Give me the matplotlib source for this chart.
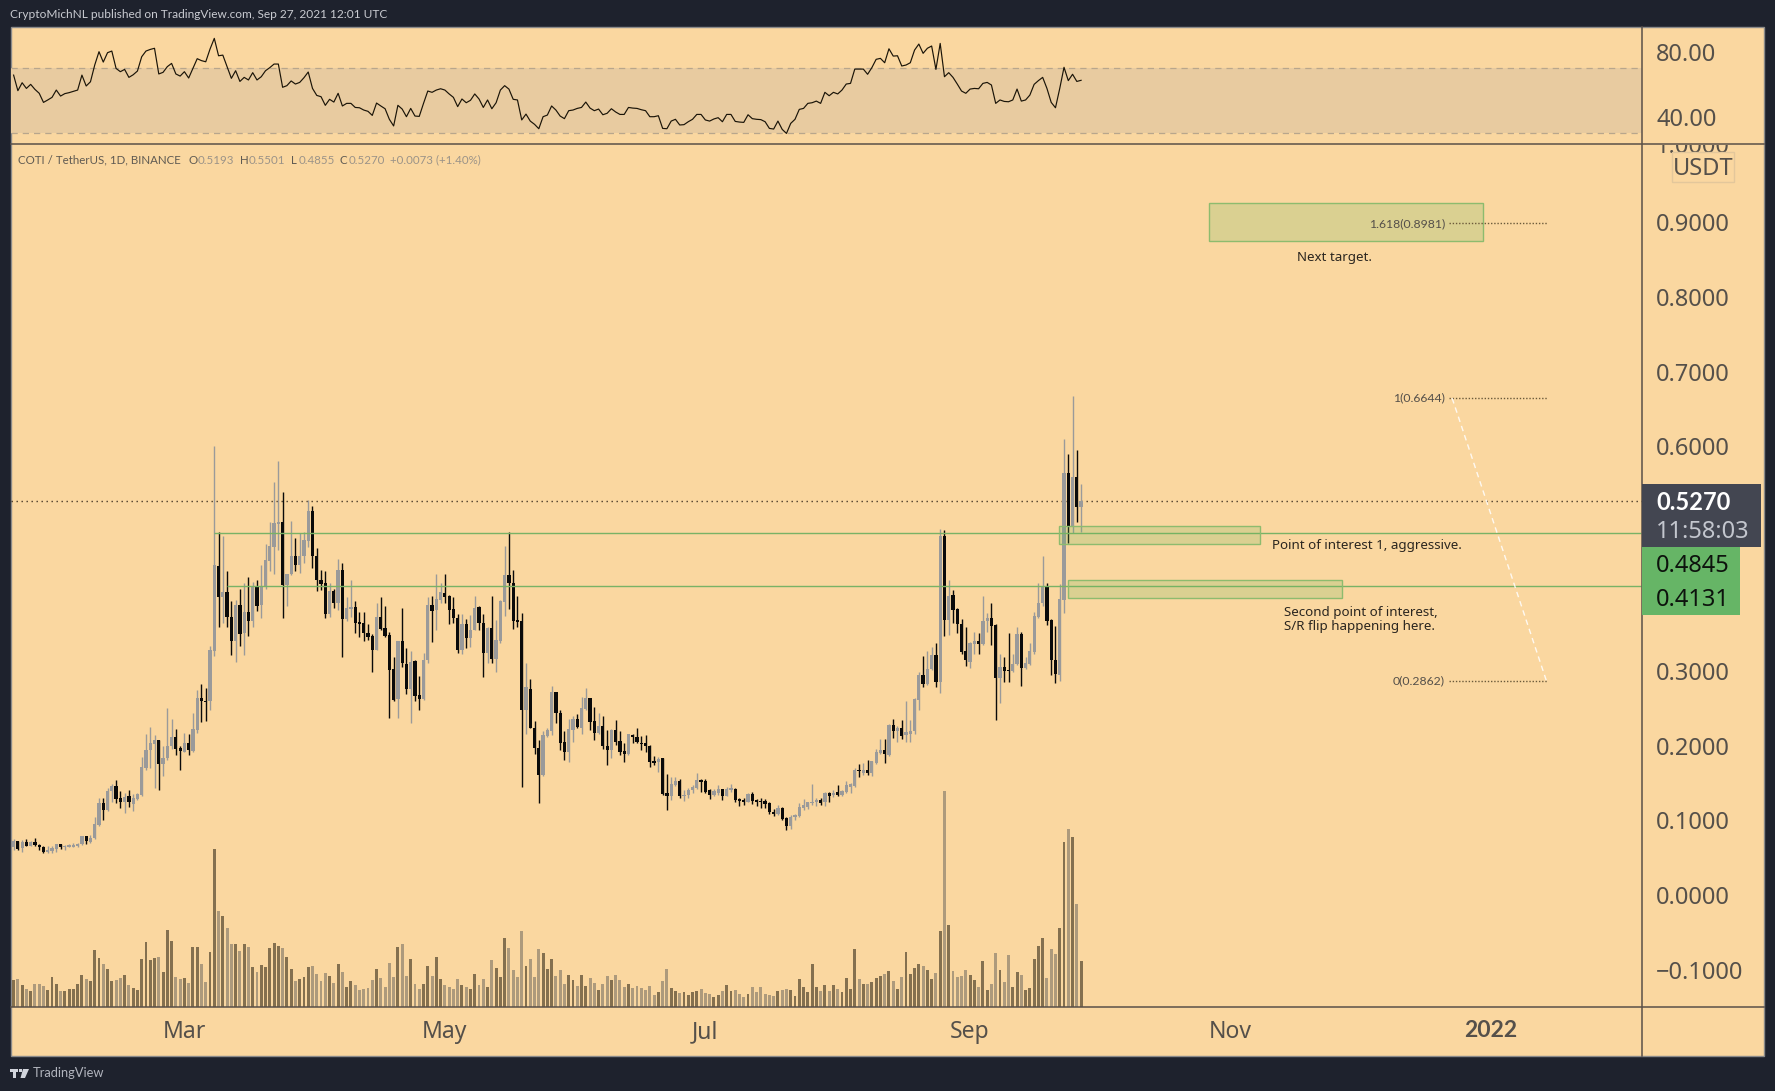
import numpy as np
import pandas as pd
import matplotlib
matplotlib.use("Agg")
import matplotlib.pyplot as plt
import matplotlib.dates as mdates
from matplotlib.patches import Rectangle, Polygon

plt.rcParams['font.family'] = ['Noto Sans', 'DejaVu Sans']
SMALL = ['Lato', 'DejaVu Sans']

dates = pd.date_range('2021-01-20', periods=251)

opens = [.064,.072,.063,.071,.066,.071,.067,.065,.058,.059,
.062,.068,.064,.065,.065,.066,.068,.079,.071,.076,
.094,.123,.114,.139,.146,.130,.125,.133,.122,.129,
.134,.170,.194,.202,.208,.175,.183,.199,.211,.197,
.192,.204,.193,.221,.263,.260,.259,.327,.440,.398,
.405,.372,.340,.388,.350,.378,.366,.413,.388,.413,
.447,.466,.496,.499,.415,.429,.454,.441,.453,.474,
.514,.454,.421,.417,.376,.407,.391,.435,.369,.383,
.385,.365,.364,.351,.346,.328,.372,.357,.348,.302,
.262,.340,.309,.276,.313,.267,.262,.314,.388,.381,
.395,.404,.400,.382,.370,.328,.362,.344,.355,.385,
.364,.324,.357,.316,.340,.392,.428,.417,.368,.367,
.247,.276,.224,.197,.161,.213,.220,.272,.243,.205,
.192,.221,.236,.224,.249,.263,.233,.217,.226,.200,
.194,.221,.206,.193,.189,.214,.211,.204,.203,.200,
.179,.178,.183,.136,.133,.147,.153,.132,.134,.141,
.143,.154,.153,.141,.134,.137,.142,.133,.141,.142,
.129,.127,.125,.135,.127,.126,.126,.123,.111,.109,
.117,.103,.093,.104,.106,.117,.118,.123,.124,.127,
.124,.136,.134,.138,.134,.138,.145,.146,.168,.163,
.168,.163,.177,.190,.194,.187,.228,.220,.223,.214,
.216,.219,.261,.294,.282,.302,.321,.285,.480,.368,
.401,.383,.362,.326,.312,.336,.340,.336,.366,.370,
.361,.291,.305,.301,.300,.309,.349,.304,.309,.325,
.372,.390,.412,.368,.314,.295,.395,.564,.494,.559,
.5193]

highs = [.075,.073,.074,.075,.072,.077,.069,.066,.066,.066,
.069,.069,.067,.069,.070,.070,.079,.079,.081,.104,
.130,.130,.143,.149,.154,.139,.136,.140,.135,.136,
.185,.216,.225,.214,.208,.199,.250,.235,.222,.199,
.217,.216,.244,.274,.283,.277,.333,.601,.485,.480,
.433,.393,.395,.410,.417,.426,.419,.421,.441,.470,
.499,.553,.581,.539,.430,.500,.478,.484,.485,.529,
.520,.464,.435,.433,.417,.410,.450,.444,.399,.421,
.393,.378,.378,.363,.349,.391,.398,.386,.352,.318,
.340,.384,.330,.326,.315,.293,.324,.398,.400,.430,
.417,.429,.401,.399,.376,.376,.369,.375,.400,.387,
.376,.359,.400,.368,.395,.467,.486,.435,.400,.377,
.310,.289,.233,.208,.219,.223,.280,.272,.248,.219,
.236,.239,.242,.265,.277,.263,.251,.243,.240,.221,
.222,.234,.219,.203,.216,.216,.224,.213,.214,.201,
.186,.185,.184,.162,.158,.158,.156,.141,.143,.147,
.163,.156,.155,.142,.142,.147,.142,.145,.149,.143,
.130,.130,.136,.138,.129,.130,.129,.124,.115,.121,
.118,.105,.107,.109,.123,.129,.124,.149,.130,.130,
.138,.138,.140,.147,.141,.153,.150,.170,.175,.177,
.181,.180,.196,.209,.209,.229,.236,.226,.234,.259,
.234,.263,.298,.320,.326,.332,.337,.490,.488,.422,
.408,.384,.369,.359,.339,.352,.350,.400,.377,.391,
.362,.322,.318,.350,.323,.358,.352,.319,.337,.379,
.418,.453,.418,.369,.360,.416,.610,.590,.667,.595,
.5501]

lows = [.061,.061,.058,.066,.066,.066,.061,.056,.057,.056,
.058,.062,.060,.064,.064,.064,.067,.069,.070,.075,
.093,.101,.113,.125,.123,.117,.110,.118,.113,.127,
.132,.167,.170,.143,.140,.159,.181,.196,.188,.167,
.191,.187,.192,.217,.232,.233,.248,.320,.359,.364,
.359,.321,.312,.333,.321,.346,.359,.380,.370,.410,
.433,.429,.462,.370,.386,.428,.433,.431,.444,.466,
.438,.407,.408,.371,.372,.384,.381,.319,.367,.372,
.351,.345,.340,.341,.299,.328,.355,.345,.237,.260,
.237,.305,.269,.230,.260,.247,.261,.310,.338,.354,
.390,.391,.363,.364,.324,.322,.331,.332,.355,.355,
.292,.310,.310,.298,.337,.373,.383,.356,.359,.145,
.216,.224,.189,.123,.160,.212,.214,.230,.194,.181,
.178,.205,.224,.216,.248,.221,.208,.216,.196,.174,
.183,.201,.187,.178,.188,.203,.203,.194,.192,.172,
.174,.165,.134,.114,.127,.146,.130,.126,.130,.136,
.142,.138,.136,.129,.132,.134,.127,.132,.138,.124,
.119,.120,.124,.122,.119,.116,.116,.109,.106,.107,
.101,.087,.088,.101,.105,.114,.115,.121,.119,.121,
.119,.124,.131,.133,.132,.136,.136,.145,.158,.161,
.161,.159,.175,.189,.177,.186,.210,.205,.209,.205,
.205,.216,.247,.279,.281,.301,.279,.270,.346,.348,
.364,.351,.323,.306,.304,.323,.323,.335,.352,.335,
.234,.257,.285,.285,.299,.308,.280,.303,.308,.323,
.371,.387,.361,.295,.284,.286,.377,.471,.484,.499,
.4855]

closes = [.073,.062,.071,.066,.071,.067,.065,.058,.061,.063,
.068,.064,.066,.067,.067,.068,.079,.073,.076,.095,
.123,.114,.139,.146,.129,.125,.131,.124,.130,.135,
.172,.194,.203,.208,.176,.183,.200,.211,.196,.193,
.204,.194,.222,.263,.259,.258,.328,.442,.398,.406,
.372,.340,.388,.349,.378,.367,.413,.387,.413,.448,
.467,.498,.499,.415,.429,.453,.442,.454,.475,.514,
.453,.421,.416,.376,.407,.391,.435,.369,.384,.385,
.364,.363,.351,.345,.328,.372,.356,.347,.301,.261,
.340,.310,.276,.312,.266,.262,.315,.388,.380,.396,
.405,.399,.381,.370,.328,.362,.344,.355,.384,.364,
.324,.357,.316,.341,.393,.428,.417,.367,.365,.247,
.278,.224,.197,.161,.214,.221,.272,.243,.204,.192,
.222,.236,.225,.250,.263,.232,.217,.226,.199,.194,
.221,.205,.191,.189,.215,.211,.205,.202,.200,.178,
.177,.182,.135,.133,.149,.153,.132,.134,.141,.144,
.154,.151,.138,.134,.139,.142,.133,.142,.143,.127,
.126,.125,.135,.126,.125,.124,.122,.111,.109,.116,
.102,.093,.105,.107,.118,.120,.124,.125,.127,.123,
.136,.133,.137,.134,.139,.147,.149,.168,.166,.168,
.164,.179,.191,.194,.189,.228,.220,.223,.213,.218,
.220,.262,.294,.282,.303,.321,.285,.480,.368,.400,
.381,.362,.325,.314,.337,.340,.336,.367,.370,.360,
.291,.305,.300,.300,.309,.349,.304,.310,.326,.373,
.391,.412,.367,.314,.296,.396,.564,.494,.559,.519,
.5270]

volumes = [79,82,64,52,46,67,67,61,49,88,
67,46,46,52,52,67,94,82,76,169,
145,127,112,76,79,85,94,64,55,49,
142,193,139,145,148,103,229,196,88,82,
85,70,178,178,127,73,163,472,286,271,
235,187,187,166,187,178,118,103,124,118,
175,190,181,175,148,112,76,82,88,118,
121,97,76,100,91,70,127,103,58,76,
64,49,52,55,79,112,85,58,130,88,
178,187,91,142,67,52,67,121,91,148,
82,64,58,52,82,64,58,52,97,64,
82,58,139,115,88,205,175,109,88,226,
121,142,88,172,160,112,142,91,109,67,
94,79,61,94,61,85,70,49,67,91,
79,94,79,58,67,55,61,55,49,61,
34,43,76,112,55,46,40,43,34,43,
46,52,40,37,28,34,46,64,47,49,
37,28,37,58,43,58,37,34,31,46,
49,52,49,31,82,58,43,127,58,46,
64,46,64,52,43,85,52,172,82,67,
67,73,85,91,97,106,76,52,88,163,
97,115,127,121,109,82,100,226,646,244,
106,88,91,109,94,79,58,136,49,67,
160,109,73,154,58,103,94,49,55,142,
181,205,85,172,157,235,493,532,508,307,
136]

rsi = [65.6,56.0,60.9,57.4,59.9,56.8,54.4,48.8,50.3,51.9,
56.4,52.7,54.2,54.8,55.6,56.4,65.6,58.9,61.5,71.8,
80.0,73.6,79.4,80.4,69.7,67.7,69.1,64.2,65.8,68.1,
76.9,80.4,81.4,82.1,66.3,67.3,70.8,72.8,66.3,65.0,
67.7,63.8,69.7,75.7,74.5,73.8,81.6,88.2,77.5,77.9,
70.8,63.6,68.3,61.7,64.2,62.6,67.1,62.6,64.6,68.3,
70.2,72.4,72.4,58.1,59.1,62.0,60.1,61.1,64.0,67.5,
57.4,53.1,52.3,47.0,50.7,49.0,54.4,46.6,48.2,48.2,
45.7,45.5,44.1,43.3,40.8,48.4,46.6,44.9,38.4,34.3,
47.0,44.7,40.0,45.1,40.4,40.2,48.2,55.8,55.0,56.4,
57.2,56.4,54.0,51.9,46.2,50.9,48.6,50.1,54.0,50.9,
45.7,50.3,44.9,48.6,56.4,59.1,57.0,50.7,50.3,38.0,
41.6,37.3,35.3,32.6,40.0,41.0,46.6,44.1,40.4,
38.8,43.7,44.1,45.1,45.7,49.0,45.3,43.7,44.7,41.2,42.1,
44.9,42.9,41.4,41.4,45.7,45.3,45.1,44.3,43.7,40.0,
40.0,40.6,32.8,32.6,37.3,38.4,34.9,35.1,36.9,38.4,
41.4,41.4,38.0,37.3,38.6,39.4,36.9,41.4,41.4,37.1,
36.7,36.5,41.2,38.8,38.4,38.2,36.9,32.8,32.4,37.3,
32.2,29.7,35.9,38.4,44.5,45.1,48.2,48.6,49.6,48.2,
55.0,52.9,55.0,54.0,56.4,60.1,60.5,69.3,69.3,69.3,
66.1,70.2,75.3,75.9,73.2,81.8,77.3,77.5,71.2,71.8,
73.2,81.0,84.7,79.0,82.1,83.5,69.1,85.1,64.6,67.1,
64.2,60.1,55.8,54.4,57.0,57.4,57.2,60.5,61.1,59.5,
48.2,50.3,49.4,49.2,50.3,57.0,49.6,50.3,53.3,59.9,
62.2,64.2,57.4,48.8,45.5,57.4,70.4,62.2,66.1,61.7,62.4]

price_ticks = [0.9, 0.8, 0.7, 0.6, 0.3, 0.2, 0.1, 0.0, -0.1]
price_labels = ['0.9000','0.8000','0.7000','0.6000','0.3000','0.2000','0.1000','0.0000','\u22120.1000']
rsi_ticks = [80, 40]
rsi_labels = ['80.00', '40.00']
month_ticks = ['2021-03-01','2021-05-01','2021-07-01','2021-09-01','2021-11-01','2022-01-01']
month_labels = ['Mar','May','Jul','Sep','Nov','2022']

last_price = 0.5270
poi1 = 0.4845
poi2 = 0.4131
fib_1618 = 0.8981
fib_1 = 0.6644
fib_0 = 0.2862

BG = '#FAD7A0'
DARK = '#1E222D'
TXT = '#55504A'
W, H = 1775, 1091
fig = plt.figure(figsize=(W/100, H/100), dpi=100, facecolor=DARK)

def axbox(x0, y0, x1, y1):
    return [x0/W, 1-y1/H, (x1-x0)/W, (y1-y0)/H]
def fx(x): return x/W
def fy(y): return 1-y/H

L, R, RIGHT, TOP, SEP, BASE, BOT = 10.5, 1641.5, 1764, 27, 144, 1006.5, 1056

fig.add_artist(Rectangle((fx(L), fy(BOT)), (RIGHT-L)/W, (BOT-TOP)/H, transform=fig.transFigure,
                         fc=BG, ec='#8a8a8a', lw=1, zorder=-5))

d0 = mdates.date2num(dates[0])
xs = d0 + np.arange(len(dates))
PXD = 4.27
x_left = d0 - (13.6-L)/PXD
x_right = x_left + (R-L)/PXD

o = np.array(opens); h = np.array(highs); l = np.array(lows); c = np.array(closes)
up = c >= o

# ---- RSI pane
ar = fig.add_axes(axbox(L, TOP, R, SEP), facecolor='none')
r_top = 80 + (51.7-TOP)/1.625
r_bot = 80 - (SEP-51.7)/1.625
ar.set_xlim(x_left, x_right); ar.set_ylim(r_bot, r_top)
ar.axhspan(30, 70, fc='#E8CBA0', ec='none', zorder=1)
for v in (70, 30):
    ar.axhline(v, color='#B8A68C', lw=0.9, ls=(0, (5, 4)), zorder=2)
ar.plot(xs, rsi, color='#1a1408', lw=0.85, zorder=3)
ar.set_xticks([])
ar.yaxis.tick_right()
ar.set_yticks(rsi_ticks); ar.set_yticklabels(rsi_labels, fontsize=17, color=TXT, ha='left')
ar.tick_params(axis='y', length=0, pad=10.5)
for s in ar.spines.values(): s.set_visible(False)

# ---- main + volume panes
ax = fig.add_axes(axbox(L, SEP, R, BASE), facecolor='none')
p_top = 0.9 + (222-SEP)/748
p_bot = 0.9 - (BASE-222)/748
ax.set_xlim(x_left, x_right); ax.set_ylim(p_bot, p_top)

av = ax.twinx()
av.set_ylim(0, (BASE-SEP)*3)
av.set_yticks([])
vol = np.array(volumes)
av.bar(xs[up], vol[up], width=0.68, color='#84704F', linewidth=0)
av.bar(xs[~up], vol[~up], width=0.68, color='#AD9A7C', linewidth=0)
for s in av.spines.values(): s.set_visible(False)
ax.set_zorder(av.get_zorder()+1)

GRAY, BLACK = '#9A9A9A', '#0A0A0A'
for mask, col in ((up, GRAY), (~up, BLACK)):
    ax.vlines(xs[mask], l[mask], h[mask], color=col, lw=1.0, zorder=3)
    ax.bar(xs[mask], np.maximum(np.abs(c[mask]-o[mask]), 0.0015), bottom=np.minimum(c[mask], o[mask]),
           width=0.76, color=col, linewidth=0, zorder=4)

ax.axhline(last_price, color='#4a3a28', lw=1.0, ls=(0, (1, 2.6)), zorder=2)
GREEN = '#79B266'
ax.hlines(poi1, d0+47, x_right, color=GREEN, lw=1.0, zorder=5)
ax.hlines(poi2, d0+50, x_right, color=GREEN, lw=1.0, zorder=5)
RECT_F = (0.42, 0.72, 0.36, 0.22)
RECT_E = '#8DBB6E'
for x0, x1, y0, y1 in ((280, 344.2, 0.8746, 0.9254), (244.8, 292, 0.4695, 0.4936), (246.9, 311.1, 0.3973, 0.4214)):
    ax.add_patch(Rectangle((d0+x0, y0), x1-x0, y1-y0, fc=RECT_F, ec=RECT_E, lw=1.0, zorder=6))

for val, lab in ((fib_1618, '1.618(0.8981)'), (fib_1, '1(0.6644)'), (fib_0, '0(0.2862)')):
    ax.hlines(val, d0+336.2, d0+359, color='#6b5a3a', lw=1.0, ls=(0, (1, 1.3)), zorder=6)
    ax.text(d0+335.2, val, lab, fontsize=8.8, color=TXT, ha='right', va='center', zorder=7, family=SMALL)
ax.plot([d0+336.9, d0+359], [fib_1, fib_0], color='#FFFFFF', lw=1.0, ls=(0, (4, 3)), alpha=0.85, zorder=6)

NOTE = '#2b2620'
ax.text(d0+309.4, 0.8520, 'Next target.', fontsize=9.6, color=NOTE, ha='center', va='center', zorder=7)
ax.text(d0+294.8, 0.4680, 'Point of interest 1, aggressive.', fontsize=9.6, color=NOTE, ha='left', va='center', zorder=7)
ax.text(d0+297.5, 0.3685, 'Second point of interest,\nS/R flip happening here.', fontsize=9.6, color=NOTE,
        ha='left', va='center', linespacing=1.02, zorder=7)

ax.yaxis.tick_right()
ax.set_yticks(price_ticks); ax.set_yticklabels(price_labels, fontsize=17, color=TXT, ha='left')
ax.tick_params(axis='y', length=0, pad=10.5)
ax.set_xticks(mdates.date2num(pd.to_datetime(month_ticks)))
ax.set_xticklabels(month_labels, fontsize=16.5, color=TXT)
ax.tick_params(axis='x', length=0, pad=10)
lab2022 = ax.get_xticklabels()[-1]
lab2022.set_fontfamily(SMALL); lab2022.set_fontweight('bold')
for s in ax.spines.values(): s.set_visible(False)

def fline(x0, y0, x1, y1, color='#5a5048', lw=1.1):
    fig.add_artist(plt.Line2D([fx(x0), fx(x1)], [fy(y0), fy(y1)], color=color, lw=lw, zorder=8))
fline(L, SEP, RIGHT, SEP)
fline(R, TOP, R, BOT)
fline(L, BASE, RIGHT, BASE)

def ftext(x, y, s, **kw):
    kw.setdefault('va', 'center'); kw.setdefault('ha', 'left')
    kw.setdefault('zorder', 12)
    return fig.text(fx(x), fy(y), s, **kw)

# 1.0000 sits on the pane separator and is cut by it and by the USDT box
t = ftext(1656, 147, '1.0000', fontsize=17, color=TXT)
clip = Rectangle((fx(R), fy(BASE)), (RIGHT-R)/W, (BASE-SEP-1)/H, transform=fig.transFigure)
t.set_clip_path(clip); t.set_clip_on(True)

fig.add_artist(Rectangle((fx(1672), fy(182)), 62/W, 30/H, transform=fig.transFigure,
                         fc=BG, ec='#E3C79B', lw=1, zorder=13))
ftext(1703, 169, 'USDT', fontsize=17, color=TXT, ha='center', zorder=14)

fig.add_artist(Rectangle((fx(R), fy(615)), 98/W, 68/H, transform=fig.transFigure, fc='#66B566', ec='none', zorder=10))
fig.add_artist(Rectangle((fx(R), fy(547)), 119.5/W, 63/H, transform=fig.transFigure, fc='#434651', ec='none', zorder=11))
ftext(1656, 503, '0.5270', fontsize=17, color='#FFFFFF', fontweight='bold', family=SMALL, zorder=13)
ftext(1656, 532, '11:58:03', fontsize=17, color='#C3C6CE', zorder=13)
ftext(1656, 566, '0.4845', fontsize=17, color='#0D130D', zorder=13)
ftext(1656, 600, '0.4131', fontsize=17, color='#0D130D', zorder=13)

ftext(10, 15, 'CryptoMichNL published on TradingView.com, Sep 27, 2021 12:01 UTC', fontsize=8.6, color='#C9CBD1', family=SMALL)
ftext(33, 1073, 'TradingView', fontsize=9.3, color='#B2B5BE', family=SMALL)
lx, ly = 10, 1069
fig.add_artist(Rectangle((fx(lx), fy(ly+3)), 8/W, 3/H, transform=fig.transFigure, fc='#D1D4DC', ec='none', zorder=12))
fig.add_artist(Rectangle((fx(lx+3), fy(ly+9)), 3.4/W, 9/H, transform=fig.transFigure, fc='#D1D4DC', ec='none', zorder=12))
fig.add_artist(Rectangle((fx(lx+8.5), fy(ly+3)), 3/W, 3/H, transform=fig.transFigure, fc='#D1D4DC', ec='none', zorder=12))
fig.add_artist(Polygon([[fx(lx+13), fy(ly)], [fx(lx+19), fy(ly)], [fx(lx+15), fy(ly+9)], [fx(lx+10.5), fy(ly+9)]],
                       transform=fig.transFigure, fc='#D1D4DC', ec='none', zorder=12))

LD, LV = '#5f5a52', '#9b9388'
LF = 8.3
ftext(18, 160, 'COTI / TetherUS, 1D, BINANCE', fontsize=LF, color=LD, family=SMALL)
for x, a, b in ((188.5, 'O', '0.5193'), (240, 'H', '0.5501'), (291, 'L', '0.4855'), (340, 'C', '0.5270')):
    ftext(x, 160, a, fontsize=LF, color=LD, family=SMALL)
    ftext(x + (9 if a != 'L' else 7.5), 160, b, fontsize=LF, color=LV, family=SMALL)
ftext(390, 160, '+0.0073 (+1.40%)', fontsize=LF, color=LV, family=SMALL)

fig.savefig('out.png', dpi=100, facecolor=DARK)
